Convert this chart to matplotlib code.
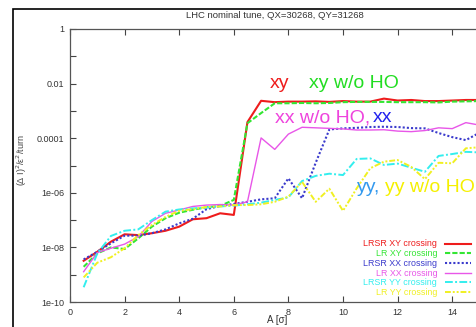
import matplotlib
matplotlib.use("Agg")
import matplotlib.pyplot as plt
from matplotlib.patches import Rectangle
import numpy as np

plt.rcParams["font.family"] = ["Liberation Sans", "DejaVu Sans"]

# amplitude in sigma
A = [0.5, 1.0, 1.5, 2.0, 2.5, 3.0, 3.5, 4.0, 4.5, 5.0, 5.5, 6.0, 6.5, 7.0, 7.5,
     8.0, 8.5, 9.0, 9.5, 10.0, 10.5, 11.0, 11.5, 12.0, 12.5, 13.0, 13.5, 14.0, 14.5, 15.0]

# log10 of (dI)^2/eps^2/turn
lrsr_xy = [-8.49, -8.16, -7.79, -7.52, -7.55, -7.48, -7.39, -7.24, -6.97, -6.93, -6.75, -6.81, -3.41, -2.63, -2.68,
           -2.66, -2.66, -2.65, -2.67, -2.64, -2.66, -2.66, -2.55, -2.62, -2.60, -2.64, -2.64, -2.62, -2.60, -2.60]
lr_xy = [-8.71, -8.22, -8.00, -8.06, -7.67, -7.24, -6.93, -6.73, -6.62, -6.53, -6.48, -6.26, -3.45, -3.08, -2.72,
         -2.72, -2.71, -2.72, -2.71, -2.68, -2.67, -2.67, -2.67, -2.68, -2.68, -2.68, -2.69, -2.66, -2.65, -2.64]
lrsr_xx = [-8.44, -8.16, -7.85, -7.57, -7.57, -7.48, -7.34, -7.12, -6.95, -6.60, -6.48, -6.41, -6.33, -6.24, -6.20,
           -5.47, -6.20, -4.90, -3.68, -3.64, -3.62, -3.59, -3.58, -3.59, -3.63, -3.64, -3.81, -3.96, -4.07, -3.80]
lr_xx = [-8.89, -8.19, -8.03, -7.88, -7.61, -7.05, -6.75, -6.63, -6.50, -6.45, -6.43, -6.45, -6.33, -3.99, -4.41,
         -3.85, -3.60, -3.62, -3.64, -3.66, -3.70, -3.70, -3.69, -3.74, -3.76, -3.72, -3.62, -3.65, -3.43, -3.52]
lrsr_yy = [-9.46, -8.22, -7.58, -7.39, -7.34, -7.00, -6.69, -6.61, -6.57, -6.54, -6.50, -6.47, -6.42, -6.36, -6.26,
           -6.17, -5.57, -5.38, -5.30, -5.35, -4.76, -4.74, -4.98, -4.93, -5.08, -5.23, -4.65, -4.58, -4.50, -4.52]
lr_yy = [-9.10, -8.56, -8.36, -8.03, -7.55, -7.18, -6.88, -6.66, -6.60, -6.52, -6.50, -6.45, -6.45, -6.42, -6.33,
         -6.14, -5.60, -6.33, -5.85, -6.66, -5.84, -5.10, -4.86, -4.80, -5.05, -5.50, -4.90, -4.92, -4.37, -4.33]

labels = ["LRSR XY crossing", "LR XY crossing", "LRSR XX crossing",
          "LR XX crossing", "LRSR YY crossing", "LR YY crossing"]
series = [lrsr_xy, lr_xy, lrsr_xx, lr_xx, lrsr_yy, lr_yy]
colors = ["#ee1c1c", "#33e633", "#3a3acc", "#e856e8", "#33eeee", "#f0f022"]
dashes = [None, (2.5, 1), (1, 1), None, (4, 1.2, 1, 1.2), (3, 1, 1, 1, 1, 1)]
widths = [1.5, 1.5, 1.5, 1.0, 1.4, 1.4]

yticks = [1e0, 1e-1, 1e-2, 1e-3, 1e-4, 1e-5, 1e-6, 1e-7, 1e-8, 1e-9, 1e-10]
ytick_labels = ["1", "", "0.01", "", "0.0001", "", "1e-06", "", "1e-08", "", "1e-10"]
xticks = [0, 2, 4, 6, 8, 10, 12, 14]

W, H = 476, 327
fig = plt.figure(figsize=(W / 100, H / 100), dpi=100)
# the plot is cropped on the right: axes run past the figure edge
ax = fig.add_axes([70 / W, 25 / H, 436.8 / W, 273 / H])

for ys, lab, c, d, lw in zip(series, labels, colors, dashes, widths):
    line, = ax.semilogy(A, 10 ** np.array(ys), color=c, lw=lw, label=lab)
    if d is not None:
        line.set_dashes(d)

ax.set_xlim(0, 16)
ax.set_ylim(1e-10, 1)
ax.set_yticks(yticks)
ax.set_yticklabels(ytick_labels)
ax.minorticks_off()
ax.set_xticks(xticks)
ax.tick_params(direction="in", length=4, width=0.8, top=True, right=True,
               labelsize=6.5, colors="#444444", labelcolor="#333333", pad=4)
for s in ax.spines.values():
    s.set_color("#555555")
    s.set_linewidth(0.9)

# annotations
ax.text(7.3, 10 ** -1.98, "xy", color="#ee1c1c", fontsize=14, va="center", ha="left")
ax.text(8.75, 10 ** -1.98, "xy w/o HO", color="#22dd22", fontsize=14, va="center", ha="left")
ax.text(7.5, 10 ** -3.26, "xx w/o HO,", color="#ee44dd", fontsize=14, va="center", ha="left")
ax.text(11.1, 10 ** -3.26, "xx", color="#2222ee", fontsize=14, va="center", ha="left")
ax.text(10.5, 10 ** -5.79, "yy,", color="#3399ee", fontsize=14, va="center", ha="left")
ax.text(11.55, 10 ** -5.79, "yy w/o HO", color="#f5f000", fontsize=14, va="center", ha="left")

leg = ax.legend(loc="lower right", bbox_to_anchor=(471 / W, 30 / H),
                bbox_transform=fig.transFigure, frameon=False, markerfirst=False,
                fontsize=6.4, handlelength=2.9, handletextpad=0.9, handleheight=0.5,
                labelspacing=0.08, borderpad=0, borderaxespad=0)
for txt, c in zip(leg.get_texts(), colors):
    txt.set_color(c)

fig.text(275 / W, 1 - 15 / H, "LHC nominal tune, QX=30268, QY=31268",
         ha="center", va="center", fontsize=6.8, color="#333333")
fig.text(22 / W, 1 - 160 / H, "(Δ I)$^2$/ε$^2$/turn", rotation=90,
         ha="center", va="center", fontsize=6.5, color="#444444")
fig.text(277 / W, 1 - 320 / H, "A [σ]", ha="center", va="center",
         fontsize=7, color="#333333")

# outer frame of the original page
fig.patches.append(Rectangle((13 / W, -0.2), 1.2, 1 - 9 / H + 0.2,
                             transform=fig.transFigure, fill=False,
                             edgecolor="black", lw=1.2))

fig.savefig("out.png", dpi=100)
